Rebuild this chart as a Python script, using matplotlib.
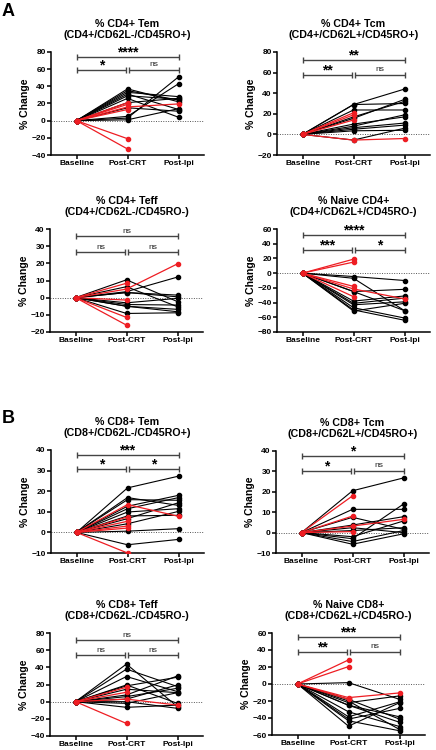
import numpy as np
import matplotlib
matplotlib.use("Agg")
import matplotlib.pyplot as plt

plt.rcParams['font.family'] = ['Liberation Sans', 'DejaVu Sans']
plt.rcParams['font.weight'] = 'bold'

nan = np.nan

# -----------------------------
# Data (% change from baseline; baseline is 0 for every patient)
# -----------------------------
conditions = ["Baseline", "Post-CRT", "Post-Ipi"]

# CD4+ Tem
cd4_tem_crt = [37, 35, 33, 31, 29, 26, 21, 15, 5, 3, 1]
cd4_tem_ipi = [22, 24, 28, 13, 25, 4, 26, 11, 43, 51, 14]
cd4_tem_red_crt = [21, 19, 16, 13, -21, -33]
cd4_tem_red_ipi = [nan, nan, 19.5, nan, nan, nan]

# CD4+ Tcm
cd4_tcm_crt = [29, 29, 23.7, 17, 15.6, 10, 8, 6.5, 5, 3.5, -5.5]
cd4_tcm_ipi = [44, 30, 23.7, 32, 34, 17, 19, 11, 9, 4, 6]
cd4_tcm_red_crt = [21, 19, 14, -5.5]
cd4_tcm_red_ipi = [nan, nan, nan, -4]

# CD4+ Teff
cd4_teff_crt = [10.4, 6.4, 3.5, 3, 3, -3, -4, -5, -5, -9.2]
cd4_teff_ipi = [-2.3, -5.3, 12, 1.5, 0.5, -0.4, -4.3, -6.8, -8.2, -8.8]
cd4_teff_red_crt = [8.4, 5, -1.4, -11.5, -16]
cd4_teff_red_ipi = [nan, 19.7, nan, nan, nan]

# Naive CD4+
cd4_naive_crt = [-4.6, -7, -25, -25, -38, -41, -43, -47, -50, -51.5]
cd4_naive_ipi = [-10, -51, -22, -51, -31, -34, -39, -61, -64, -41]
cd4_naive_red_crt = [19, 15, -18, -21.5, -32]
cd4_naive_red_ipi = [nan, nan, nan, -35, nan]

# CD8+ Tem
cd8_tem_crt = [21.6, 16.9, 15.9, 12.7, 11.5, 9.9, 8, 6.7, 4.2, 0.6, -6]
cd8_tem_ipi = [27.3, 13.1, 15.6, 18, 16.9, 11.5, 8.3, 14.4, 10.2, 1.8, -3.4]
cd8_tem_red_crt = [13.5, 7.5, 5.4, 3.1, 2.1, -10]
cd8_tem_red_ipi = [7.8, nan, nan, nan, nan, nan]

# CD8+ Tcm
cd8_tcm_crt = [20.5, 11.4, 7.5, 3.7, 2.4, 1, -2, -3, -4.4, -5.7]
cd8_tcm_ipi = [26.8, 11.4, 1.6, 7.8, 0, 2.4, 5.7, 14, 1, -0.6]
cd8_tcm_red_crt = [18, 8.1, 3.2, 0.5]
cd8_tcm_red_ipi = [nan, nan, 6.5, nan]

# CD8+ Teff
cd8_teff_crt = [43.8, 37.9, 29.3, 19.5, 18.4, 14.5, 7.8, 5.9, 3, 0, -2, -6.6]
cd8_teff_ipi = [-5.9, 17.6, 11.7, -2, 28.5, 10.5, 30, 15.6, 19.5, -7.8, 10.5, -4]
cd8_teff_red_crt = [16.8, 11, 3, -25.4]
cd8_teff_red_ipi = [nan, nan, -4, nan]

# Naive CD8+
cd8_naive_crt = [1.6, -18, -20, -22, -25, -25, -32.7, -38.6, -41.3, -43.3, -49.6]
cd8_naive_ipi = [-18, -41.3, -53.5, -14, -45, -38.6, -50, -21, -28.7, -55, -22]
cd8_naive_red_crt = [28.3, 20.5, -16, -18]
cd8_naive_red_ipi = [nan, nan, -10.5, nan]

titles = [
    "% CD4+ Tem\n(CD4+/CD62L-/CD45RO+)",
    "% CD4+ Tcm\n(CD4+/CD62L+/CD45RO+)",
    "% CD4+ Teff\n(CD4+/CD62L-/CD45RO-)",
    "% Naive CD4+\n(CD4+/CD62L+/CD45RO-)",
    "% CD8+ Tem\n(CD8+/CD62L-/CD45RO+)",
    "% CD8+ Tcm\n(CD8+/CD62L+/CD45RO+)",
    "% CD8+ Teff\n(CD8+/CD62L-/CD45RO-)",
    "% Naive CD8+\n(CD8+/CD62L+/CD45RO-)",
]
# significance: (baseline vs ipi, baseline vs crt, crt vs ipi)
stars = [
    ("****", "*", "ns"),
    ("**", "**", "ns"),
    ("ns", "ns", "ns"),
    ("****", "***", "*"),
    ("***", "*", "*"),
    ("*", "*", "ns"),
    ("ns", "ns", "ns"),
    ("***", "**", "ns"),
]
# bracket heights (top, lower)
bracket_y = [(74.5, 59.5), (72.5, 58), (35.7, 26.5), (52, 31.7),
             (37.6, 30.6), (37.6, 30.3), (71.4, 53.8), (55, 37.6)]
ylims = [(-40, 80, 20), (-20, 80, 20), (-20, 40, 10), (-80, 60, 20),
         (-10, 40, 10), (-10, 40, 10), (-40, 80, 20), (-60, 60, 20)]

panel_sets = [
    (cd4_tem_crt, cd4_tem_ipi, cd4_tem_red_crt, cd4_tem_red_ipi),
    (cd4_tcm_crt, cd4_tcm_ipi, cd4_tcm_red_crt, cd4_tcm_red_ipi),
    (cd4_teff_crt, cd4_teff_ipi, cd4_teff_red_crt, cd4_teff_red_ipi),
    (cd4_naive_crt, cd4_naive_ipi, cd4_naive_red_crt, cd4_naive_red_ipi),
    (cd8_tem_crt, cd8_tem_ipi, cd8_tem_red_crt, cd8_tem_red_ipi),
    (cd8_tcm_crt, cd8_tcm_ipi, cd8_tcm_red_crt, cd8_tcm_red_ipi),
    (cd8_teff_crt, cd8_teff_ipi, cd8_teff_red_crt, cd8_teff_red_ipi),
    (cd8_naive_crt, cd8_naive_ipi, cd8_naive_red_crt, cd8_naive_red_ipi),
]

# axes boxes in pixels: (left, top, bottom)
W, H = 436, 750
boxes = [(51, 52, 155), (277, 52, 155), (50, 229, 332), (277, 229, 332),
         (51, 450, 553), (276, 451, 553), (50, 633, 736), (272, 633, 735)]
ax_w = 153

RED = '#ee1d23'
BR = '#444444'


def bracket(ax, x0, x1, y, text):
    ax.plot([x0, x1], [y, y], color=BR, lw=1.0, solid_capstyle='butt', zorder=3)
    ax.plot([x0, x1], [y, y], ls='none', marker='|', ms=5, mew=1.0, color=BR, zorder=3)
    if text == "ns":
        ax.annotate(text, ((x0 + x1) / 2, y), xytext=(0, 1.2), textcoords='offset points',
                    ha='center', va='bottom', fontsize=6, fontweight='normal', color='#222222')
    else:
        ax.annotate(text, ((x0 + x1) / 2, y), xytext=(0, -1.8), textcoords='offset points',
                    ha='center', va='bottom', fontsize=10, fontweight='bold', color='black')


fig = plt.figure(figsize=(W / 100, H / 100), dpi=100)
x = np.arange(3)

for i, (left, top, bottom) in enumerate(boxes):
    ax = fig.add_axes([left / W, 1 - bottom / H, ax_w / W, (bottom - top) / H])
    crt, ipi, rcrt, ripi = panel_sets[i]

    for c, p in zip(crt, ipi):
        ax.plot(x, [0, c, p], color='black', lw=0.8, marker='o', ms=3, zorder=4)
    for c, p in zip(rcrt, ripi):
        ax.plot(x, [0, c, p], color=RED, lw=0.9, marker='o', ms=3, zorder=5)

    ax.axhline(0, color='#555555', lw=0.7, ls=(0, (1, 1.5)), zorder=1)

    lo, hi, step = ylims[i]
    ax.set_ylim(lo, hi)
    ax.set_yticks(np.arange(lo, hi + 1, step))
    ax.set_xlim(-0.5, 2.5)
    ax.set_xticks(x)
    ax.set_xticklabels(conditions)

    ytop, ylow = bracket_y[i]
    s_top, s_left, s_right = stars[i]
    bracket(ax, 0, 2, ytop, s_top)
    bracket(ax, 0, 0.98, ylow, s_left)
    bracket(ax, 1.02, 2, ylow, s_right)

    for side in ['top', 'right']:
        ax.spines[side].set_visible(False)
    for side in ['left', 'bottom']:
        ax.spines[side].set_linewidth(1.1)
    ax.tick_params(direction='out', length=3, width=1.1, labelsize=6, pad=0.8)
    for lab in ax.get_xticklabels() + ax.get_yticklabels():
        lab.set_fontweight('bold')

    ax.set_ylabel("% Change", fontsize=7.6, fontweight='bold', labelpad=1)
    ax.set_title(titles[i], fontsize=7.7, fontweight='bold', pad=10, linespacing=1.1)

fig.text(0.004, 1 - 3 / H, "A", fontsize=13, fontweight='bold', va='top', ha='left')
fig.text(0.004, 1 - 410 / H, "B", fontsize=13, fontweight='bold', va='top', ha='left')

fig.savefig("out.png", dpi=100)
